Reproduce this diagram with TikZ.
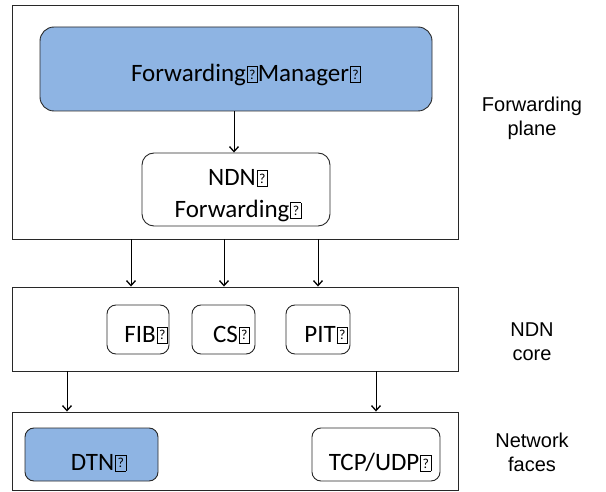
\documentclass[tikz,border=0pt]{standalone}
\usepackage{fontspec}
\usepackage{graphicx}
\setmainfont{Carlito}
\newfontfamily\labelfont{Liberation Sans}
\usetikzlibrary{arrows.meta}
\definecolor{boxblue}{RGB}{142,180,227}
\definecolor{frame}{RGB}{40,40,40}
% placeholder glyph box shown after each label
\newcommand\tofu{\kern0.04em{\fboxsep=0pt\fboxrule=0.45pt\fbox{\makebox[0.4em]{\rule[-0.02em]{0pt}{0.62em}\raisebox{0.1em}{\scalebox{0.55}{?}}}}}}
% box text sits a little right of and below the box centre (inner margins)
\newcommand\inset[3]{\raisebox{-#2}[\height][\depth]{\kern#1\relax#3\kern-#1\relax}}
\newcommand\twolines[2]{\begin{tabular}{@{}c@{}}#1\\#2\end{tabular}}
\begin{document}
\begin{tikzpicture}[x=1pt,y=-1pt,
  layer/.style={draw=frame,line width=0.9pt,rectangle,inner sep=0pt},
  block/.style={draw=frame,line width=0.9pt,rounded corners=9pt,inner sep=0pt,font=\fontsize{25}{32}\selectfont,align=center},
  blueblock/.style={block,fill=boxblue},
  side/.style={font=\labelfont\fontsize{20}{24}\selectfont,align=center},
  arr/.style={draw=black,line width=0.9pt,-{Straight Barb[length=5pt,width=9pt,line width=1.3pt]}}]
\useasboundingbox (0,0) rectangle (606,492);
% layers
\node[layer,minimum width=446pt,minimum height=234pt] (plane) at (235,122) {};
\node[layer,minimum width=446pt,minimum height=84pt] (core) at (235,329) {};
\node[layer,minimum width=446pt,minimum height=78pt] (faces) at (235,451) {};
% forwarding plane
\node[blueblock,minimum width=392pt,minimum height=84pt,rounded corners=14pt] (mgr) at (236,69) {\inset{10pt}{6pt}{Forwarding\tofu Manager\tofu}};
\node[block,minimum width=188pt,minimum height=73pt,rounded corners=12pt] (fwd) at (236,189.5) {\inset{2pt}{6pt}{\twolines{NDN\tofu}{Forwarding\tofu}}};
% core tables
\node[block,minimum width=62pt,minimum height=49pt] (fib) at (138,329.5) {\inset{8pt}{5pt}{FIB\tofu}};
\node[block,minimum width=63pt,minimum height=49pt] (cs) at (223.5,329.5) {\inset{8pt}{5pt}{CS\tofu}};
\node[block,minimum width=64pt,minimum height=49pt] (pit) at (318,329.5) {\inset{8pt}{5pt}{PIT\tofu}};
% faces
\node[blueblock,minimum width=133pt,minimum height=53pt] (dtn) at (91.5,454.5) {\inset{7pt}{8pt}{DTN\tofu}};
\node[block,minimum width=128pt,minimum height=53pt] (tcp) at (376,454.5) {\inset{4pt}{8pt}{TCP/UDP\tofu}};
% side labels
\node[side] (lplane) at (532,118) {Forwarding\\plane};
\node[side] (lcore) at (532,342) {NDN\\core};
\node[side] (lfaces) at (532,452) {Network\\faces};
% connectors
\draw[arr] (mgr.south -| 234,0) -- (fwd.north -| 234,0);
\draw[arr] (plane.south -| 131,0) -- (core.north -| 131,0);
\draw[arr] (plane.south -| 224,0) -- (core.north -| 224,0);
\draw[arr] (plane.south -| 318,0) -- (core.north -| 318,0);
\draw[arr] (core.south -| 67,0) -- (faces.north -| 67,0);
\draw[arr] (core.south -| 376,0) -- (faces.north -| 376,0);
\end{tikzpicture}
\end{document}
